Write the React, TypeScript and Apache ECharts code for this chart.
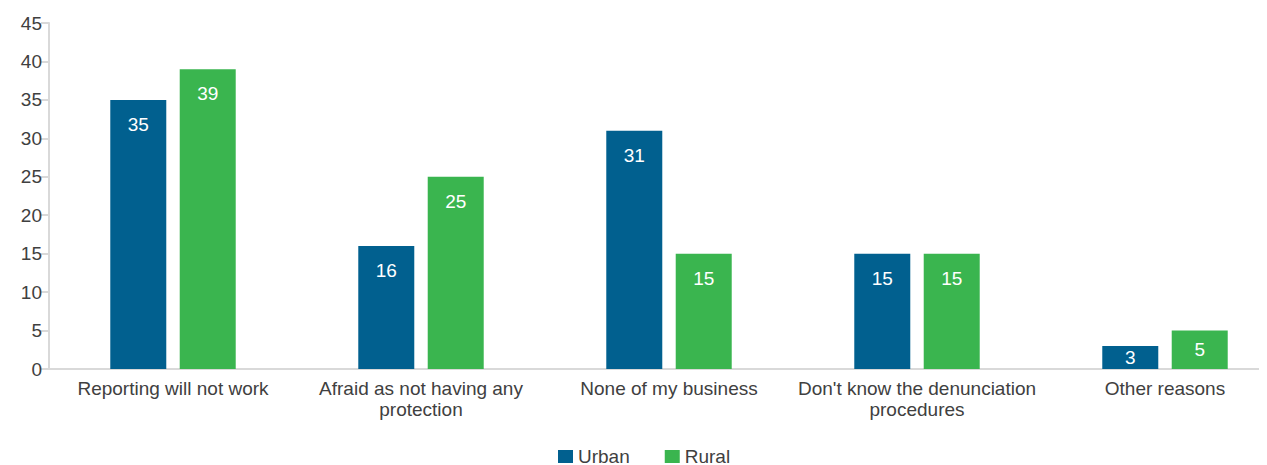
import React, { useEffect, useRef } from "react";
import * as echarts from "echarts";

const categories = [
  "Reporting will not work",
  "Afraid as not having any\nprotection",
  "None of my business",
  "Don't know the denunciation\nprocedures",
  "Other reasons",
];
const urban = [35, 16, 31, 15, 3];
const rural = [39, 25, 15, 15, 5];
const yTicks = { min: 0, max: 45, interval: 5 };

const URBAN_COLOR = "#01608f";
const RURAL_COLOR = "#3ab54f";
const TEXT_COLOR = "#404040";
const AXIS_COLOR = "#d9d9d9";
const FONT = "'Liberation Sans', Arial, sans-serif";
const FONT_SIZE = 19;

function toData(values: number[]) {
  // short bars carry their label in the middle of the bar
  return values.map((v) =>
    v < 8 ? { value: v, label: { position: "inside" as const } } : v
  );
}

export default function App() {
  const ref = useRef<HTMLDivElement>(null);

  useEffect(() => {
    if (!ref.current) return;
    const chart = echarts.init(ref.current, undefined, { renderer: "svg" });
    const barLabel = {
      show: true,
      position: "insideTop" as const,
      distance: 15,
      color: "#ffffff",
      fontSize: FONT_SIZE,
      fontFamily: FONT,
    };
    chart.setOption({
      animation: false,
      textStyle: { fontFamily: FONT },
      grid: { left: 41, right: 9, top: 15, bottom: 96, containLabel: false },
      legend: {
        left: 545,
        top: 434,
        itemWidth: 15,
        itemHeight: 13,
        itemGap: 35,
        icon: "rect",
        textStyle: { color: TEXT_COLOR, fontSize: FONT_SIZE, fontFamily: FONT },
        data: ["Urban", "Rural"],
      },
      xAxis: {
        type: "category",
        data: categories,
        axisLine: { lineStyle: { color: AXIS_COLOR, width: 2 } },
        axisTick: { show: false },
        axisLabel: {
          color: TEXT_COLOR,
          fontSize: FONT_SIZE,
          fontFamily: FONT,
          margin: 9,
          lineHeight: 21,
          interval: 0,
        },
      },
      yAxis: {
        type: "value",
        min: yTicks.min,
        max: yTicks.max,
        interval: yTicks.interval,
        axisLine: { show: true, lineStyle: { color: AXIS_COLOR, width: 2 } },
        axisTick: { show: true, length: 8, lineStyle: { color: AXIS_COLOR, width: 2 } },
        splitLine: { show: false },
        axisLabel: {
          color: TEXT_COLOR,
          fontSize: FONT_SIZE,
          fontFamily: FONT,
          margin: 7,
        },
      },
      series: [
        {
          name: "Urban",
          type: "bar",
          data: toData(urban),
          barWidth: 56,
          barGap: "24%",
          itemStyle: { color: URBAN_COLOR },
          label: barLabel,
        },
        {
          name: "Rural",
          type: "bar",
          data: toData(rural),
          barWidth: 56,
          barGap: "24%",
          itemStyle: { color: RURAL_COLOR },
          label: barLabel,
        },
      ],
    });
    return () => chart.dispose();
  }, []);

  // the plot area runs on past the right edge of the visible frame
  return (
    <div style={{ width: 1251, height: 457, overflow: "hidden" }}>
      <div ref={ref} style={{ width: 1290, height: 457 }} />
    </div>
  );
}
